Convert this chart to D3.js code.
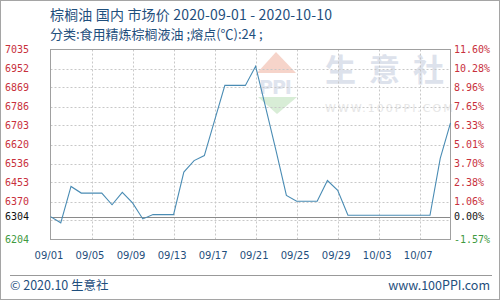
<!DOCTYPE html>
<html><head><meta charset="utf-8">
<script src="https://cdn.jsdelivr.net/npm/d3@7"></script>
<style>
html,body{margin:0;padding:0;background:#fff;}
svg{display:block;}
</style></head>
<body>
<svg id="c" width="500" height="300"></svg>
<script>
// ---- data ----
const titleText = "棕榈油 国内 市场价 2020-09-01 - 2020-10-10";
const subtitleText = "分类:食用精炼棕榈液油 ;熔点(℃):24 ;";
const dates = ["2020-09-01","2020-09-02","2020-09-03","2020-09-04","2020-09-05","2020-09-06","2020-09-07","2020-09-08","2020-09-09","2020-09-10",
  "2020-09-11","2020-09-12","2020-09-13","2020-09-14","2020-09-15","2020-09-16","2020-09-17","2020-09-18","2020-09-19","2020-09-20",
  "2020-09-21","2020-09-22","2020-09-23","2020-09-24","2020-09-25","2020-09-26","2020-09-27","2020-09-28","2020-09-29","2020-09-30",
  "2020-10-01","2020-10-02","2020-10-03","2020-10-04","2020-10-05","2020-10-06","2020-10-07","2020-10-08","2020-10-09","2020-10-10"];
const prices = [6304,6277,6436,6407,6407,6407,6356,6410,6364,6294,
  6313,6313,6313,6499,6549,6571,6725,6878,6878,6878,
  6962,6778,6591,6397,6371,6371,6371,6462,6419,6310,
  6310,6310,6310,6310,6310,6310,6310,6310,6559,6714];
const xTickLabels = ["09/01","09/05","09/09","09/13","09/17","09/21","09/25","09/29","10/03","10/07"];
const gridValues = [7035,6951.9,6868.8,6785.7,6702.6,6619.5,6536.4,6453.3,6370.2,6287.1,6204];
const leftLabels = ["7035","6952","6869","6786","6703","6620","6536","6453","6370","6304","6204"];
const leftLabelValues = [7035,6951.9,6868.8,6785.7,6702.6,6619.5,6536.4,6453.3,6370.2,6304,6204];
const rightLabels = ["11.60%","10.28%","8.96%","7.65%","6.33%","5.01%","3.70%","2.38%","1.06%","0.00%","-1.57%"];
const baseValue = 6304;
const footerLeft = "© 2020.10 生意社";
const footerRight = "www.100PPI.com";

// ---- setup ----
const svg = d3.select("#c");
const parse = d3.timeParse("%Y-%m-%d");
const data = dates.map((d,i)=>({date:parse(d), v:prices[i]}));
const L=50.5, R=450.5, T=49.5, B=239.5;
const x = d3.scaleTime().domain([parse(dates[0]), parse(dates[dates.length-1])]).range([L,R]);
const y = d3.scaleLinear().domain([6204,7035]).range([B,T]);
const navy = "#1f4f7d";
const red = "#c8303c", green = "#3f9a3f";

// outer border
svg.append("rect").attr("x",0.5).attr("y",0.5).attr("width",499).attr("height",299)
  .attr("fill","#fff").attr("stroke","#a5a5a5");

// titles
const cjk = "'Noto Sans CJK SC','DejaVu Sans',sans-serif";
svg.append("text").attr("x",50).attr("y",19.5).attr("font-family",cjk).attr("font-size",14)
  .attr("textLength",282).attr("lengthAdjust","spacing")
  .attr("fill",navy).text(titleText);
svg.append("text").attr("x",50).attr("y",38.5).attr("font-family",cjk).attr("font-size",13)
  .attr("fill",navy).text(subtitleText);

// watermark
const wm = svg.append("g");
wm.append("path").attr("d","M276,52 L257,73 L296,73 Z").attr("fill","#f6d4ca");
wm.append("text").attr("x",259).attr("y",94).attr("font-family","'DejaVu Sans',sans-serif")
  .attr("font-weight","bold").attr("font-size",19).attr("fill","#dfe4ee").attr("letter-spacing",-1).text("PPI");
wm.append("path").attr("d","M258,97 L297,97 L277,114 Z").attr("fill","#d8edd6");
wm.append("text").attr("x",325).attr("y",81).attr("font-family",cjk).attr("font-size",31).attr("font-weight","bold")
  .attr("letter-spacing",13).attr("fill","#dde2ec").text("生意社");
wm.append("text").attr("x",325).attr("y",112).attr("font-family","'DejaVu Sans',sans-serif").attr("font-size",11)
  .attr("letter-spacing",2).attr("fill","#e6e6e6").text("WWW.100PPI.COM");

// grid
const tickDates = xTickLabels.map(s=>parse("2020-"+s.replace("/","-")));
svg.append("g").selectAll("line").data(tickDates.slice(1)).join("line")
  .attr("x1",d=>Math.round(x(d))+0.5).attr("x2",d=>Math.round(x(d))+0.5).attr("y1",T).attr("y2",B)
  .attr("stroke","#c8c8c8").attr("stroke-dasharray","2,2");
svg.append("g").selectAll("line").data(gridValues.slice(1,10)).join("line")
  .attr("x1",L).attr("x2",R).attr("y1",d=>Math.round(y(d))+0.5).attr("y2",d=>Math.round(y(d))+0.5)
  .attr("stroke","#c8c8c8").attr("stroke-dasharray","2,2");

// baseline
svg.append("line").attr("x1",L).attr("x2",R).attr("y1",Math.round(y(baseValue))+0.5).attr("y2",Math.round(y(baseValue))+0.5)
  .attr("stroke","#8a8a8a");

// plot border
svg.append("rect").attr("x",L).attr("y",T).attr("width",R-L).attr("height",B-T)
  .attr("fill","none").attr("stroke","#a0a0a0");

// line
svg.append("path").datum(data)
  .attr("d",d3.line().x(d=>x(d.date)).y(d=>y(d.v)))
  .attr("fill","none").attr("stroke","#4a8cb4").attr("stroke-width",1.1);

// left axis
const mono = "'DejaVu Sans Mono',monospace";
const colorFor = i => i===9 ? "#111" : (i===10 ? green : red);
const ax = d3.axisLeft(y).tickValues(leftLabelValues).tickSize(0).tickPadding(0)
  .tickFormat((d,i)=>leftLabels[i]);
const gl = svg.append("g").attr("transform","translate(29,0)").call(ax);
gl.select(".domain").remove();
gl.selectAll("text").attr("font-family",mono).attr("font-size",10).attr("fill",(d,i)=>colorFor(i));

const ar = d3.axisRight(y).tickValues(leftLabelValues).tickSize(0).tickPadding(0)
  .tickFormat((d,i)=>rightLabels[i]);
const gr = svg.append("g").attr("transform","translate(454,0)").call(ar);
gr.select(".domain").remove();
gr.selectAll("text").attr("font-family",mono).attr("font-size",10).attr("fill",(d,i)=>colorFor(i));

// x axis
const axb = d3.axisBottom(x).tickValues(tickDates).tickSize(0).tickPadding(0)
  .tickFormat((d,i)=>xTickLabels[i]);
const gb = svg.append("g").attr("transform","translate(-2,252)").call(axb);
gb.select(".domain").remove();
gb.selectAll("text").attr("font-family","'DejaVu Sans',sans-serif").attr("font-size",10).attr("fill",navy);

// footer
svg.append("line").attr("x1",10).attr("x2",492).attr("y1",275.5).attr("y2",275.5).attr("stroke","#999");
svg.append("text").attr("x",10).attr("y",289.5).attr("font-family",cjk).attr("font-size",12.5)
  .attr("fill",navy).text(footerLeft);
svg.append("text").attr("x",490).attr("y",289.5).attr("text-anchor","end").attr("font-family",cjk).attr("font-size",12.5)
  .attr("fill",navy).text(footerRight);
</script>
</body></html>
